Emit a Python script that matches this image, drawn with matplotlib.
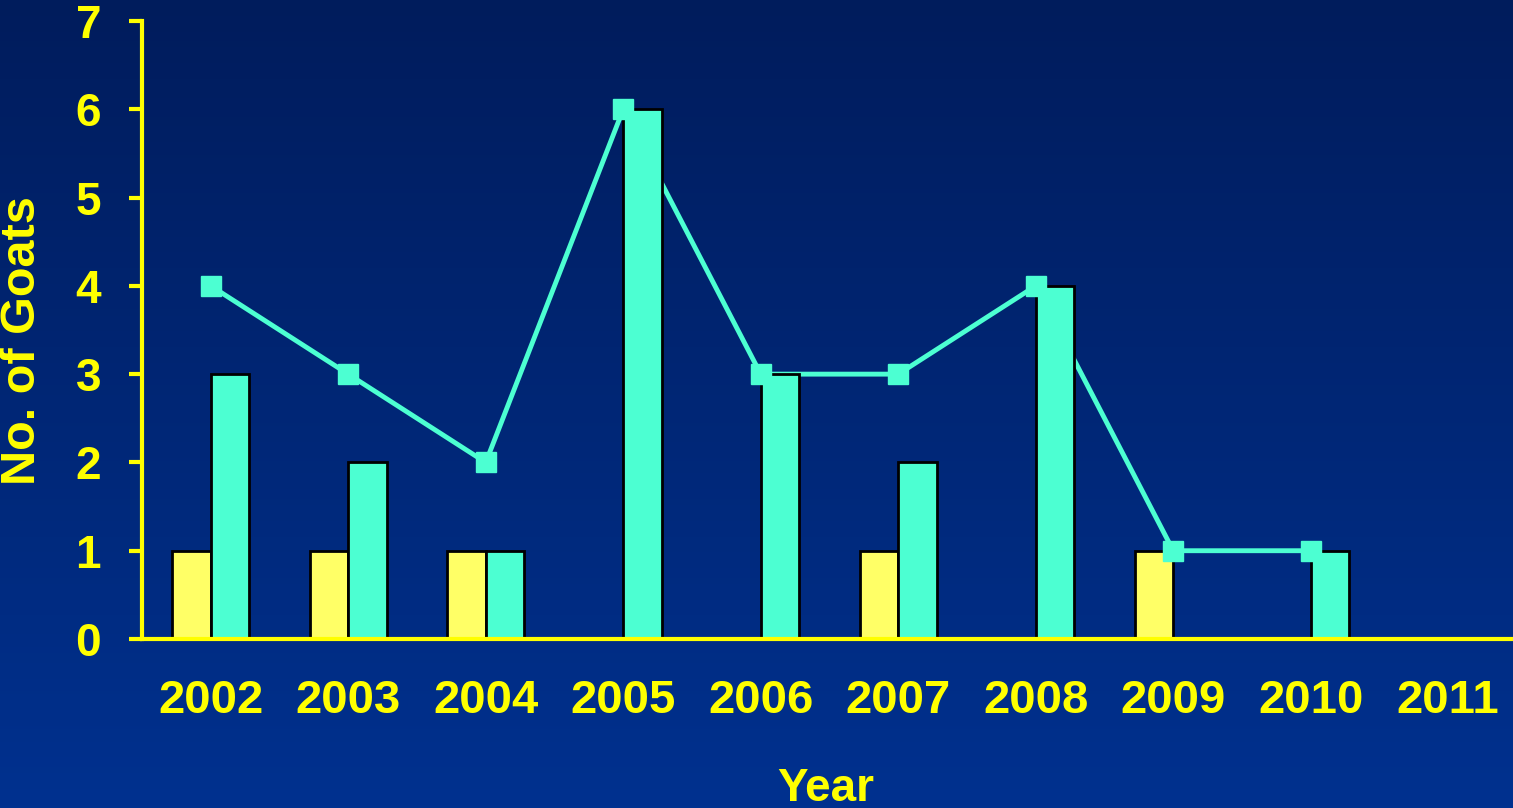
import matplotlib
matplotlib.use("Agg")
import matplotlib.pyplot as plt
import numpy as np
from matplotlib.colors import LinearSegmentedColormap

years = ["2002", "2003", "2004", "2005", "2006", "2007", "2008", "2009", "2010", "2011"]
yellow_vals = [1, 1, 1, 0, 0, 1, 0, 1, 0, 0]
teal_vals = [3, 2, 1, 6, 3, 2, 4, 0, 1, 0]
line_vals = [4, 3, 2, 6, 3, 3, 4, 1, 1]
yticks = [0, 1, 2, 3, 4, 5, 6, 7]

YEL = "#FFFF00"
BAR_Y = "#FFFF66"
TEAL = "#4CFFD2"

plt.rcParams['font.family'] = ['Liberation Sans', 'DejaVu Sans']
plt.rcParams['font.weight'] = 'bold'

fig = plt.figure(figsize=(15.13, 8.08), dpi=100)

# background gradient
bg = fig.add_axes([0, 0, 1, 1], zorder=-10)
cmap = LinearSegmentedColormap.from_list("bg", ["#001C5C", "#00318F"])
grad = np.linspace(0, 1, 256).reshape(-1, 1)
bg.imshow(grad, aspect="auto", cmap=cmap, extent=[0, 1, 0, 1], origin="upper")
bg.axis("off")

W, H = 1513, 808
ax = fig.add_axes([142 / W, 1 - 639 / H, 1 - 142 / W, (639 - 21) / H])
ax.patch.set_alpha(0)

x = np.arange(len(years))
bw = 0.28
ax.bar(x - bw / 2, yellow_vals, bw, color=BAR_Y, edgecolor="black", linewidth=2, zorder=3)
ax.bar(x + bw / 2, teal_vals, bw, color=TEAL, edgecolor="black", linewidth=2, zorder=3)
ax.plot(x[:len(line_vals)], line_vals, color=TEAL, linewidth=3.5, zorder=2)
ax.plot(x[:len(line_vals)], line_vals, linestyle="none", marker="s", markersize=15,
        color=TEAL, zorder=4, clip_on=False)

ax.set_xlim(-0.5, -0.5 + 1371 / 137.5)
ax.set_ylim(0, 7)
ax.set_yticks(yticks)
ax.set_xticks(x)
ax.set_xticklabels(years)

for s in ["top", "right"]:
    ax.spines[s].set_visible(False)
for s in ["left", "bottom"]:
    ax.spines[s].set_color(YEL)
    ax.spines[s].set_linewidth(3)
    ax.spines[s].set_zorder(5)

ax.tick_params(axis="y", colors=YEL, length=9.5, width=3, pad=20, labelsize=33)
ax.tick_params(axis="x", colors=YEL, length=0, pad=29, labelsize=34)
for lab in ax.get_xticklabels() + ax.get_yticklabels():
    lab.set_fontweight("bold")
    lab.set_color(YEL)

fig.text(23 / W, 1 - 341 / H, "No. of Goats", rotation=90, ha="center", va="center",
         color=YEL, fontsize=35, fontweight="bold")
fig.text(826 / W, 1 - 789 / H, "Year", ha="center", va="center",
         color=YEL, fontsize=33, fontweight="bold")

fig.savefig("out.png", dpi=100)
